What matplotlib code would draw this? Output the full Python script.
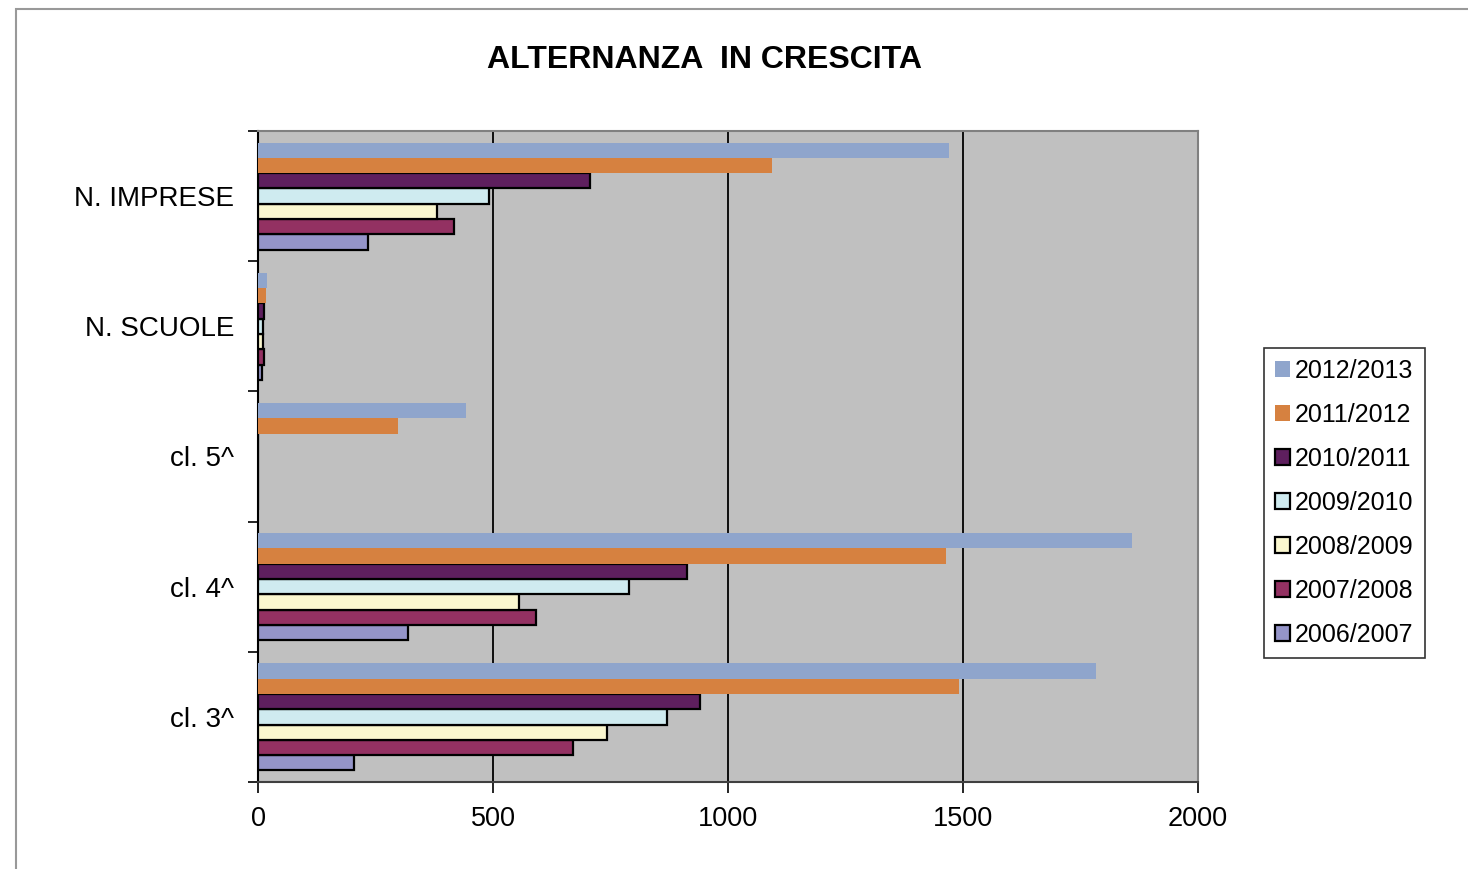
import matplotlib.pyplot as plt
import matplotlib.patches as mpatches
import numpy as np

plt.rcParams['font.family'] = ['Liberation Sans', 'DejaVu Sans']

categories = ["cl. 3^", "cl. 4^", "cl. 5^", "N. SCUOLE", "N. IMPRESE"]
years = ["2006/2007", "2007/2008", "2008/2009", "2009/2010",
         "2010/2011", "2011/2012", "2012/2013"]

# values per year, same order as categories
v_2006 = [204, 320, 0, 9, 235]
v_2007 = [670, 592, 0, 13, 417]
v_2008 = [742, 555, 0, 11, 381]
v_2009 = [870, 789, 0, 11, 492]
v_2010 = [940, 912, 0, 13, 707]
v_2011 = [1491, 1463, 298, 18, 1093]
v_2012 = [1782, 1860, 443, 20, 1470]
values = [v_2006, v_2007, v_2008, v_2009, v_2010, v_2011, v_2012]

colors = ["#9595C9", "#933162", "#FAF7CF", "#CFEBF0", "#5E1F5E", "#D68140", "#8FA5CC"]
edged = [True, True, True, True, True, False, False]

fig = plt.figure(figsize=(14.68, 8.69), dpi=100)
ax = fig.add_axes([258/1468, 1 - 782/869, 940/1468, 651/869])
ax.set_facecolor("#C0C0C0")

n = len(years)
h = 0.1175
y = np.arange(len(categories))
for i in range(n):
    off = (i - (n - 1) / 2) * h
    if edged[i]:
        ax.barh(y + off, values[i], height=h, color=colors[i], edgecolor="black",
                linewidth=1.6, label=years[i], zorder=3)
    else:
        ax.barh(y + off, values[i], height=h, color=colors[i], edgecolor="none",
                label=years[i], zorder=3)

ax.set_xlim(0, 2000)
ax.set_ylim(-0.5, len(categories) - 0.5)
ax.set_xticks([0, 500, 1000, 1500, 2000])
ax.tick_params(axis="x", labelsize=19.5, length=8, width=1.2, direction="out", pad=9)
for xv in [500, 1000, 1500]:
    ax.axvline(xv, color="black", linewidth=1.3, zorder=1)

ax.set_yticks(np.arange(-0.5, len(categories), 1.0))
ax.set_yticklabels([])
ax.set_yticks(y, minor=True)
ax.set_yticklabels(categories, minor=True)
ax.tick_params(axis="y", which="major", length=7, width=1.2, direction="out")
ax.tick_params(axis="y", which="minor", length=0, labelsize=20, pad=17)

for s in ["top", "right"]:
    ax.spines[s].set_color("#808080")
    ax.spines[s].set_linewidth(1.5)
ax.spines["left"].set_color("black")
ax.spines["left"].set_linewidth(1.5)
ax.spines["bottom"].set_color("#404040")
ax.spines["bottom"].set_linewidth(1.5)

fig.text(0.48, 0.931, "ALTERNANZA  IN CRESCITA", ha="center", va="center",
         fontsize=23, fontweight="bold")

handles, labels = ax.get_legend_handles_labels()
leg = fig.legend(handles[::-1], labels[::-1], loc="upper left",
                 bbox_to_anchor=(1264/1468, 1 - 348/869), fontsize=18,
                 frameon=True, fancybox=False, edgecolor="black",
                 handlelength=0.6, handleheight=0.6, handletextpad=0.2,
                 labelspacing=0.8, borderpad=0.45, borderaxespad=0)
leg.get_frame().set_linewidth(1.2)

fig.patches.append(mpatches.Rectangle((16/1468, -0.1), 1.1, 1 - 9/869 + 0.1,
                                      transform=fig.transFigure, fill=False,
                                      edgecolor="#999999", linewidth=1.5))

fig.savefig("out.png", dpi=100)
